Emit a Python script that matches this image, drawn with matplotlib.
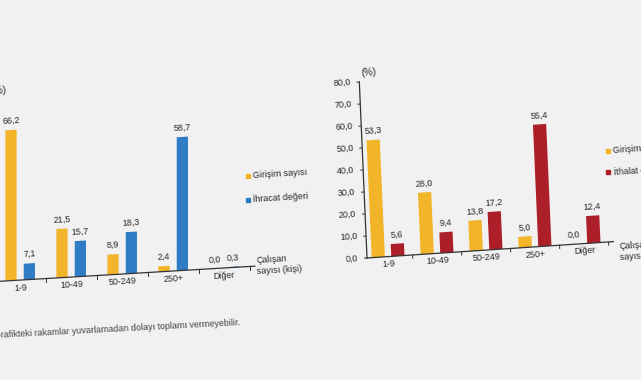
import numpy as np
import matplotlib.pyplot as plt
from matplotlib.transforms import Affine2D

plt.rcParams['font.family'] = ['Liberation Sans Narrow', 'Liberation Sans', 'DejaVu Sans']

# veriler (%)
kategoriler = ['1-9', '10-49', '50-249', '250+', 'Diğer']
ihr_girisim = [66.2, 21.5, 8.9, 2.4, 0.0]
ihr_deger = [7.1, 15.7, 18.3, 58.7, 0.3]
ith_girisim = [53.3, 28.0, 13.8, 5.0, 0.0]
ith_deger = [5.6, 9.4, 17.2, 55.4, 12.4]
y_ticks = [0, 10, 20, 30, 40, 50, 60, 70, 80]

SARI = '#f2b428'
MAVI = '#2f7cc5'
KIRMIZI = '#ad1f28'
ZEMIN = '#f1f1f1'
YAZI = '#2a2a2a'

fig = plt.figure(figsize=(6.41, 3.8), dpi=100, facecolor=ZEMIN)


def fmt(v):
    return f"{v:.1f}".replace('.', ',')


def grafik(rect_px, egim_x, egim_y, x0, seri1, seri2, renk2, ad2, genislik, ofset,
           leg_x, leg_y, calisan_x, calisan_y):
    # rect_px: sol, alt, genislik, yukseklik (piksel)
    l, b, w, h = rect_px
    ax = fig.add_axes([l / 641, b / 380, w / 641, h / 380])
    ax.set_xlim(x0, x0 + 5)
    ax.set_ylim(0, 80)
    ax.axis('off')
    # fotograftaki egiklik icin kayma (shear)
    tr = ax.transData + Affine2D().translate(-l, -b).skew_deg(egim_x, egim_y).translate(l, b)
    aci = egim_y
    x = np.arange(len(kategoriler))
    kw = dict(transform=tr, clip_on=False)

    b1 = ax.bar(x - ofset, seri1, width=genislik, color=SARI, **kw)
    b2 = ax.bar(x + ofset, seri2, width=genislik, color=renk2, **kw)
    for p in list(b1) + list(b2):
        p.set_transform(tr)
        p.set_clip_on(False)
    for xi, v in zip(x - ofset, seri1):
        ax.text(xi, v + 2, fmt(v), ha='center', va='bottom', fontsize=6.5,
                color=YAZI, rotation=aci, rotation_mode='anchor', **kw)
    for xi, v in zip(x + ofset, seri2):
        ax.text(xi, v + 2, fmt(v), ha='center', va='bottom', fontsize=6.5,
                color=YAZI, rotation=aci, rotation_mode='anchor', **kw)

    # eksenler
    ax.plot([x0, 4.6], [0, 0], color='#333333', lw=0.9, **kw)
    ax.plot([x0, x0], [0, 80], color='#333333', lw=0.9, **kw)
    for t in y_ticks:
        ax.plot([x0 - 0.05, x0], [t, t], color='#333333', lw=0.7, **kw)
        ax.text(x0 - 0.18, t, fmt(t), ha='right', va='center', fontsize=6.5,
                color=YAZI, rotation=aci, rotation_mode='anchor', **kw)
    for xi in np.arange(0.5, 4.6, 1):
        ax.plot([xi, xi], [0, -1.5], color='#333333', lw=0.7, **kw)
    for xi, k in zip(x, kategoriler):
        ax.text(xi, -3.5, k, ha='center', va='center', fontsize=6.5,
                color=YAZI, rotation=aci, rotation_mode='anchor', **kw)
    ax.text(x0 + 0.2, 84, '(%)', ha='center', va='center', fontsize=7,
            color=YAZI, rotation=aci, rotation_mode='anchor', **kw)
    ax.text(calisan_x, calisan_y, 'Çalışan\nsayısı (kişi)', ha='left', va='center',
            fontsize=6.5, color=YAZI, linespacing=1.3, rotation=aci,
            rotation_mode='anchor', **kw)

    # lejant
    for yy, renk, ad in [(leg_y[0], SARI, 'Girişim sayısı'), (leg_y[1], renk2, ad2)]:
        ax.plot([leg_x], [yy], marker='s', ms=3.5, color=renk, ls='none', **kw)
        ax.text(leg_x + 0.1, yy, ad, ha='left', va='center', fontsize=6.5, color=YAZI,
                rotation=aci, rotation_mode='anchor', **kw)
    return ax


grafik((-12, 98, 255, 182), 0, 3.4, -0.631, ihr_girisim, ihr_deger, MAVI,
       'İhracat değeri', 0.22, 0.18, 4.46, (39.9, 29.4), 4.64, 0)
grafik((367, 122, 245, 176), -2.5, 3.8, -0.43, ith_girisim, ith_deger, KIRMIZI,
       'İthalat değeri', 0.27, 0.2, 4.56, (41.2, 31.7), 4.72, -5)

fig.text(240 / 641, 1 - 323 / 380,
         'Not: Grafikteki rakamlar yuvarlamadan dolayı toplamı vermeyebilir.',
         ha='right', va='center', fontsize=6.5, color='#444444', rotation=3,
         rotation_mode='anchor')

fig.savefig('out.png', dpi=100, facecolor=ZEMIN)
